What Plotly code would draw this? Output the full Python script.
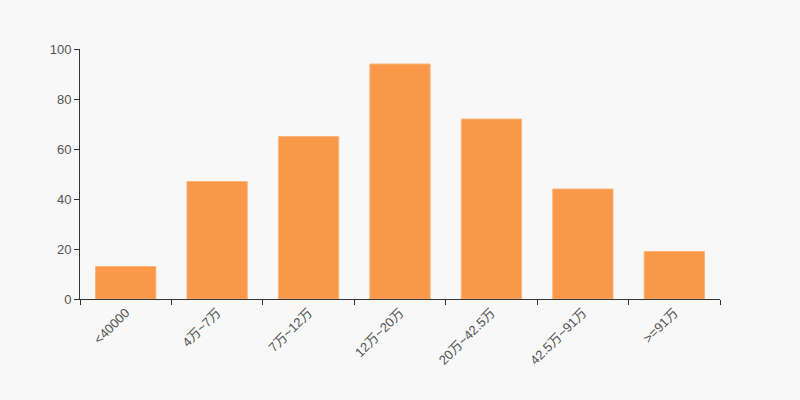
import plotly.graph_objects as go

categories = ["<40000", "4万~7万", "7万~12万", "12万~20万", "20万~42.5万", "42.5万~91万", ">=91万"]
values = [13, 47, 65, 94, 72, 44, 19]
y_ticks = [0, 20, 40, 60, 80, 100]

fig = go.Figure(go.Bar(
    x=categories, y=values,
    marker=dict(color="#f99848", line=dict(width=1, color="#fbb57c")),
))
font_fam = "Liberation Sans, Noto Sans CJK SC, sans-serif"
fig.update_layout(
    width=800, height=400,
    margin=dict(l=80, r=80, t=49, b=101),
    paper_bgcolor="#f8f8f8", plot_bgcolor="#f8f8f8",
    bargap=0.34, showlegend=False,
    font=dict(family=font_fam, size=12, color="#555"),
)
fig.update_xaxes(
    type="category", showline=True, linecolor="#333", linewidth=1,
    ticks="outside", tickson="boundaries", ticklen=5, tickcolor="#333",
    tickangle=-45, showgrid=False, tickfont=dict(size=13, color="#555"),
    automargin=False,
)
fig.update_yaxes(
    range=[0, 100], tickvals=y_ticks, showline=True, linecolor="#333", linewidth=1,
    ticks="outside", ticklen=5, tickcolor="#333", showgrid=False, zeroline=False,
    tickfont=dict(size=13, color="#555"), automargin=False,
)
fig.write_html("out.html", config={"displayModeBar": False},
               post_script="document.body.style.margin='0';document.body.style.background='#f8f8f8';")
